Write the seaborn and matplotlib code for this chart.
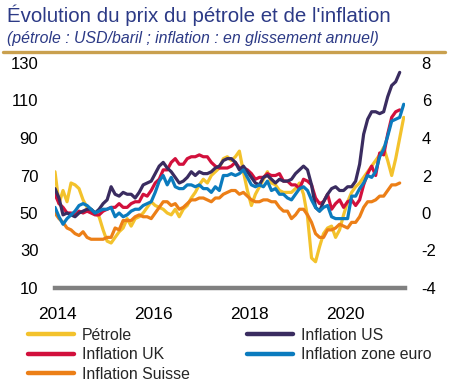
import numpy as np
import pandas as pd
import matplotlib
matplotlib.use("Agg")
import matplotlib.pyplot as plt
from matplotlib.lines import Line2D
import seaborn as sns

# ---------------- data (monthly) ----------------
petrole = [72, 55, 62, 56, 66, 65, 63, 57, 53, 52, 50, 48, 41, 35, 34, 37, 40, 42, 47, 43,
           47, 48, 50, 53, 56, 54, 53, 52, 50, 49, 52, 48, 52, 54, 58, 61, 65, 68, 66, 70,
           72, 74, 79, 80, 78, 80, 83, 72, 62, 54, 60, 64, 68, 72, 66, 65, 62, 61, 61, 61,
           63, 66, 60, 48, 26, 24, 32, 39, 42, 43, 37, 41, 49, 56, 61, 64, 66, 69, 72, 75,
           78, 81, 85, 78, 70, 79, 90, 101]
infl_us = [1.3, 0.8,
           -0.1, 0.0, -0.1, -0.2, 0.0, 0.1, 0.2, 0.2, 0.0, 0.2, 0.5, 0.7,
           1.4, 1.0, 0.9, 1.1, 1.0, 1.0, 0.8, 1.1, 1.5, 1.6, 1.7, 2.1,
           2.5, 2.7, 2.4, 2.2, 1.9, 1.6, 1.7, 1.9, 2.2, 2.0, 2.2, 2.1,
           2.1, 2.2, 2.4, 2.5, 2.8, 2.9, 2.9, 2.7, 2.3, 2.5, 2.2, 1.9,
           1.6, 1.5, 1.9, 2.0, 1.8, 1.6, 1.8, 1.7, 1.7, 1.8, 2.1, 2.3,
           2.5, 2.3, 1.5, 0.3, 0.1, 0.6, 1.0, 1.3, 1.4, 1.2, 1.2, 1.4,
           1.4, 1.7, 2.6, 4.2, 5.0, 5.4, 5.4, 5.3, 5.4, 6.2, 6.8, 7.0,
           7.5]
infl_uk = [1.0, 0.5,
           0.3, 0.0, 0.0, -0.1, 0.1, 0.0, 0.1, 0.0, -0.1, -0.1, 0.1, 0.2,
           0.3, 0.3, 0.5, 0.3, 0.3, 0.5, 0.6, 0.6, 1.0, 0.9, 1.2, 1.6,
           1.8, 2.3, 2.3, 2.7, 2.9, 2.6, 2.6, 2.9, 3.0, 3.0, 3.1, 3.0,
           3.0, 2.7, 2.5, 2.4, 2.4, 2.4, 2.5, 2.7, 2.4, 2.4, 2.3, 2.1,
           1.8, 1.9, 1.9, 2.1, 2.0, 2.0, 2.1, 1.7, 1.7, 1.5, 1.5, 1.3,
           1.8, 1.7, 1.5, 0.8, 0.5, 0.6, 1.0, 0.2, 0.5, 0.7, 0.3, 0.6,
           0.7, 0.4, 0.7, 1.5, 2.1, 2.5, 2.0, 3.2, 3.1, 4.2, 5.1, 5.4,
           5.5]
infl_ze = [0.3, -0.2,
           -0.6, -0.3, -0.1, 0.1, 0.4, 0.5, 0.4, 0.2, 0.0, 0.1, 0.2, 0.2,
           0.3, -0.2, 0.0, -0.2, -0.1, 0.1, 0.2, 0.2, 0.4, 0.5, 0.6, 1.1,
           1.7, 2.0, 1.5, 1.9, 1.4, 1.3, 1.3, 1.5, 1.5, 1.4, 1.5, 1.3,
           1.3, 1.1, 1.4, 1.2, 2.0, 2.0, 2.1, 2.0, 2.1, 2.3, 1.9, 1.5,
           1.4, 1.5, 1.4, 1.7, 1.2, 1.3, 1.0, 1.0, 0.8, 0.7, 1.0, 1.3,
           1.4, 1.2, 0.7, 0.3, 0.1, 0.3, 0.4, -0.2, -0.3, -0.3, -0.3, -0.3,
           0.9, 0.9, 1.3, 1.6, 2.0, 1.9, 2.2, 3.0, 3.4, 4.1, 4.9, 5.0,
           5.1, 5.8]
infl_ch = [0.0, -0.3,
           -0.5, -0.8, -0.9, -1.1, -1.2, -1.0, -1.3, -1.4, -1.4, -1.4, -1.4, -1.3,
           -1.3, -0.8, -0.9, -0.4, -0.4, -0.4, -0.2, -0.1, -0.2, -0.2, -0.3, 0.0,
           0.3, 0.6, 0.6, 0.4, 0.5, 0.2, 0.3, 0.5, 0.7, 0.7, 0.8, 0.8,
           0.7, 0.6, 0.8, 0.8, 1.0, 1.1, 1.2, 1.2, 1.0, 1.1, 0.9, 0.7,
           0.6, 0.6, 0.7, 0.7, 0.6, 0.6, 0.3, 0.1, 0.1, -0.3, -0.1, 0.2,
           0.2, -0.1, -0.5, -1.1, -1.3, -1.3, -0.9, -0.9, -0.8, -0.6, -0.7, -0.8,
           -0.5, -0.5, -0.2, 0.3, 0.6, 0.6, 0.7, 0.9, 0.9, 1.2, 1.5, 1.5,
           1.6]

year_ticks = [2014, 2016, 2018, 2020]
left_ticks = [10, 30, 50, 70, 90, 110, 130]
right_ticks = [-4, -2, 0, 2, 4, 6, 8]

labels = ["Pétrole", "Inflation UK", "Inflation Suisse", "Inflation US", "Inflation zone euro"]

# x positions: monthly, 2014 label falls half a month after first point
def months(n):
    return 2014 + (np.arange(n) - 0.5) / 12.0

# ---------------- styling ----------------
sns.set_theme(style="white")
plt.rcParams["font.family"] = ["Liberation Sans", "DejaVu Sans"]

c_oil = "#F3C22C"
c_us = "#3A2C60"
c_uk = "#D2103C"
c_ze = "#0B7BBE"
c_ch = "#EC7F17"
navy = "#2C3A86"

fig = plt.figure(figsize=(4.49, 3.85), dpi=100)
ax = fig.add_axes([55 / 449, 1 - 288 / 385, 350 / 449, 225 / 385])
ax2 = ax.twinx()

lw = 2.3
df_oil = pd.DataFrame({"x": months(len(petrole)), "y": petrole})
sns.lineplot(data=df_oil, x="x", y="y", ax=ax, color=c_oil, lw=lw)

series = [(infl_ch, c_ch), (infl_uk, c_uk), (infl_us, c_us), (infl_ze, c_ze)]
for vals, col in series:
    d = pd.DataFrame({"x": months(len(vals)), "y": vals})
    sns.lineplot(data=d, x="x", y="y", ax=ax2, color=col, lw=lw)

xmin, xmax = 2014 - 0.5 / 12, 2021.235
ax.set_xlim(xmin, xmax)
ax.set_ylim(10, 130)
ax2.set_ylim(-4, 8)
ax.set_yticks(left_ticks)
ax2.set_yticks(right_ticks)
ax.set_xticks(year_ticks)
ax.set_xticklabels([str(y) for y in year_ticks])
ax2.set_yticklabels([str(t) for t in right_ticks])

for a in (ax, ax2):
    a.set_xlabel("")
    a.set_ylabel("")
    for s in a.spines.values():
        s.set_visible(False)
    a.grid(False)
    a.patch.set_alpha(0)

ax.spines["bottom"].set_visible(True)
ax.spines["bottom"].set_color("#808080")
ax.spines["bottom"].set_linewidth(3.2)

ax.tick_params(axis="x", length=0, pad=14, labelsize=12.5, colors="black")
ax.tick_params(axis="y", length=0, pad=12, labelsize=12, colors="black")
ax2.tick_params(axis="y", length=0, pad=12, labelsize=12, colors="black")

# title
fig.text(7 / 449, 1 - 5 / 385, "Évolution du prix du pétrole et de l'inflation",
         fontsize=14.8, color=navy, ha="left", va="top")
fig.text(7 / 449, 1 - 31 / 385, "(pétrole : USD/baril ; inflation : en glissement annuel)",
         fontsize=11.4, color=navy, ha="left", va="top", style="italic")
fig.add_artist(Line2D([3 / 449, 445 / 449], [1 - 52 / 385, 1 - 52 / 385],
                      transform=fig.transFigure, color="#C9A04E", lw=2.4))

# legend
handles = [Line2D([0], [0], color=c_oil, lw=3.2),
           Line2D([0], [0], color=c_uk, lw=3.2),
           Line2D([0], [0], color=c_ch, lw=3.2),
           Line2D([0], [0], color=c_us, lw=3.2),
           Line2D([0], [0], color=c_ze, lw=3.2)]
leg = fig.legend(handles, labels, ncol=2, loc="upper left",
                 bbox_to_anchor=(28 / 449, 1 - 328 / 385), frameon=False,
                 fontsize=11.4, handlelength=2.9, handletextpad=0.5,
                 columnspacing=3.6, labelspacing=0.27, borderaxespad=0,
                 borderpad=0)

fig.savefig("out.png", dpi=100)
